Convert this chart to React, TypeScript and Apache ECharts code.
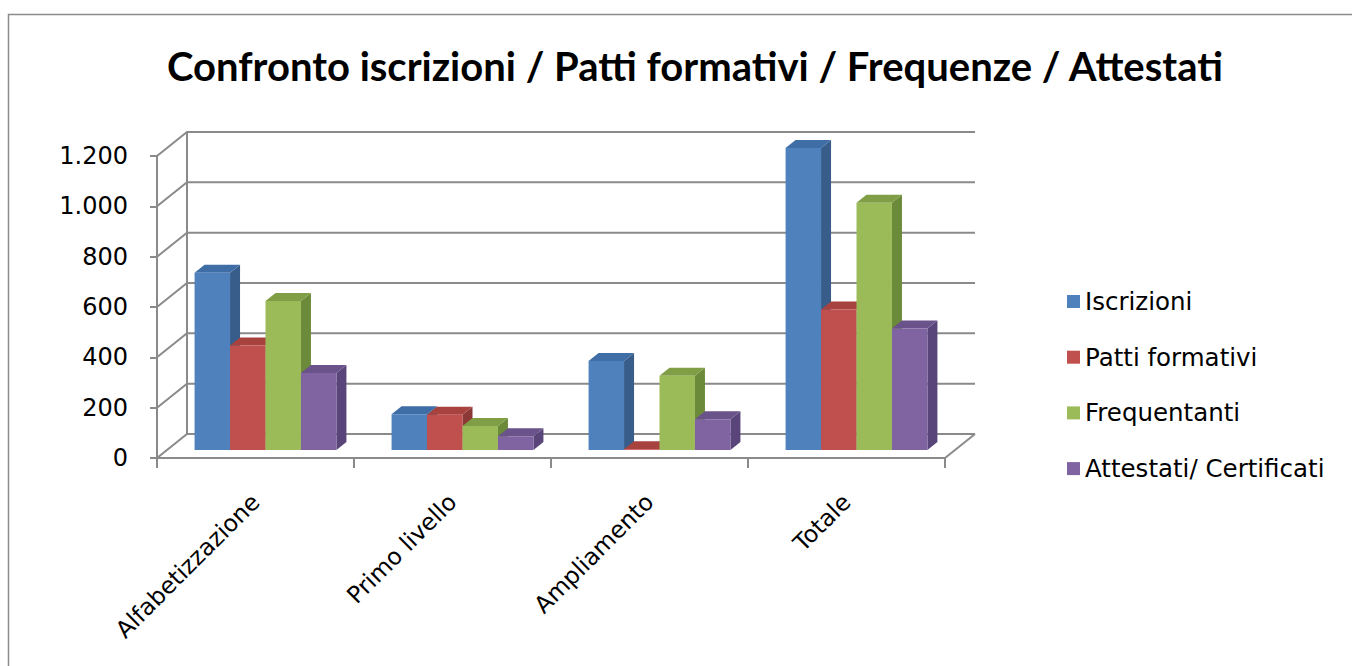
import React, { useEffect, useRef } from "react";
import * as echarts from "echarts";

const categories = ["Alfabetizzazione", "Primo livello", "Ampliamento", "Totale"];
const seriesNames = ["Iscrizioni", "Patti formativi", "Frequentanti", "Attestati/ Certificati"];
const iscrizioni = [704, 142, 354, 1200];
const pattiFormativi = [415, 140, 3, 558];
const frequentanti = [592, 95, 295, 982];
const attestati = [306, 55, 122, 483];
const gridValues = [0, 200, 400, 600, 800, 1000, 1200];

const seriesValues = [iscrizioni, pattiFormativi, frequentanti, attestati];
const frontColors = ["#4F81BD", "#C0504D", "#9BBB59", "#8064A2"];
const sideColors = ["#385D8A", "#8C3836", "#6B8A3A", "#59457A"];
const topColors = ["#3F6DA6", "#A8423F", "#809E45", "#6A528A"];

const DX = 30;
const DY = 24;
const WALL = "#8a8a8a";

function formatThousands(v: number): string {
  return String(v).replace(/\B(?=(\d{3})+(?!\d))/g, ".");
}

export default function App() {
  const ref = useRef<HTMLDivElement>(null);
  useEffect(() => {
    if (!ref.current) return;
    const chart = echarts.init(ref.current, null, { renderer: "svg" });

    const wallSeries: any = {
      type: "custom",
      name: "walls",
      z: 1,
      silent: true,
      data: gridValues.map((v) => [0, v]),
      encode: { x: 0, y: 1 },
      renderItem: (params: any, api: any) => {
        const cs = params.coordSys;
        const v = api.value(1);
        const y = api.coord([0, v])[1];
        const x0 = cs.x;
        const x1 = cs.x + cs.width;
        const children: any[] = [
          {
            type: "polyline",
            shape: {
              points: [
                [x0, y],
                [x0 + DX, y - DY],
                [x1 + DX, y - DY],
              ],
            },
            style: { stroke: WALL, lineWidth: 2, fill: null },
          },
        ];
        if (v === 0) {
          const yTop = api.coord([0, gridValues[gridValues.length - 1]])[1];
          children.push({
            type: "line",
            shape: { x1: x0 + DX, y1: y - DY, x2: x0 + DX, y2: yTop - DY },
            style: { stroke: WALL, lineWidth: 2 },
          });
          children.push({
            type: "line",
            shape: { x1: x1, y1: y, x2: x1 + DX, y2: y - DY },
            style: { stroke: WALL, lineWidth: 2 },
          });
        }
        return { type: "group", children };
      },
    };

    const barSeries = seriesValues.map((vals, si) => ({
      type: "custom",
      name: seriesNames[si],
      z: 2,
      itemStyle: { color: frontColors[si] },
      data: vals.map((v, ci) => [ci, v]),
      encode: { x: 0, y: 1 },
      renderItem: (params: any, api: any) => {
        const ci = api.value(0);
        const v = api.value(1);
        const top = api.coord([ci, v]);
        const base = api.coord([ci, 0]);
        const band = api.size([1, 0])[0];
        const bw = band * 0.18;
        const fx = DX / 3;
        const fy = DY / 3;
        const xl = top[0] + fx + (si - 2) * bw;
        const xr = xl + bw;
        const yt = top[1] - fy;
        const yb = base[1] - fy;
        return {
          type: "group",
          children: [
            {
              type: "polygon",
              shape: {
                points: [
                  [xr, yt],
                  [xr + fx, yt - fy],
                  [xr + fx, yb - fy],
                  [xr, yb],
                ],
              },
              style: { fill: sideColors[si] },
            },
            {
              type: "polygon",
              shape: {
                points: [
                  [xl, yt],
                  [xl + fx, yt - fy],
                  [xr + fx, yt - fy],
                  [xr, yt],
                ],
              },
              style: { fill: topColors[si] },
            },
            {
              type: "rect",
              shape: { x: xl, y: yt, width: bw, height: Math.max(yb - yt, 0) },
              style: { fill: frontColors[si] },
            },
          ],
        };
      },
    }));

    const option: any = {
      animation: false,
      backgroundColor: "#ffffff",
      title: {
        text: "Confronto iscrizioni / Patti formativi / Frequenze / Attestati",
        left: 690,
        textAlign: "center",
        top: 41,
        textStyle: {
          fontFamily: "Lato",
          fontWeight: "bold",
          fontSize: 40,
          color: "#000000",
        },
      },
      graphic: [
        {
          type: "rect",
          shape: { x: 8.5, y: 14.5, width: 1400, height: 700 },
          style: { fill: null, stroke: "#8c8c8c", lineWidth: 1.5 },
          silent: true,
          z: -10,
        },
      ],
      legend: {
        data: seriesNames,
        orient: "vertical",
        left: 1062,
        top: 284,
        itemGap: 30.7,
        itemWidth: 13,
        itemHeight: 13,
        icon: "rect",
        textStyle: {
          fontFamily: "DejaVu Sans",
          fontSize: 24.5,
          color: "#000000",
          lineHeight: 22,
        },
      },
      grid: {
        left: 157,
        right: 1352 - 945,
        top: 156,
        bottom: 666 - 458,
        containLabel: false,
      },
      xAxis: {
        type: "category",
        data: categories,
        axisLine: { lineStyle: { color: WALL, width: 2 } },
        axisTick: { show: true, length: 10, lineStyle: { color: WALL, width: 2 } },
        axisLabel: {
          rotate: 45,
          margin: 40,
          fontFamily: "DejaVu Sans",
          fontSize: 23.5,
          color: "#000000",
        },
      },
      yAxis: {
        type: "value",
        min: 0,
        max: 1200,
        interval: 200,
        axisLine: { show: true, lineStyle: { color: WALL, width: 2 } },
        axisTick: { show: true, length: 7, lineStyle: { color: WALL, width: 2 } },
        splitLine: { show: false },
        axisLabel: {
          margin: 29,
          fontFamily: "DejaVu Sans",
          fontSize: 24,
          color: "#000000",
          formatter: (v: number) => formatThousands(v),
        },
      },
      series: [wallSeries, ...barSeries],
    };
    chart.setOption(option);
    return () => chart.dispose();
  }, []);
  return (
    <div
      ref={ref}
      style={{ position: "fixed", left: 0, top: 0, width: 1352, height: 666 }}
    />
  );
}
